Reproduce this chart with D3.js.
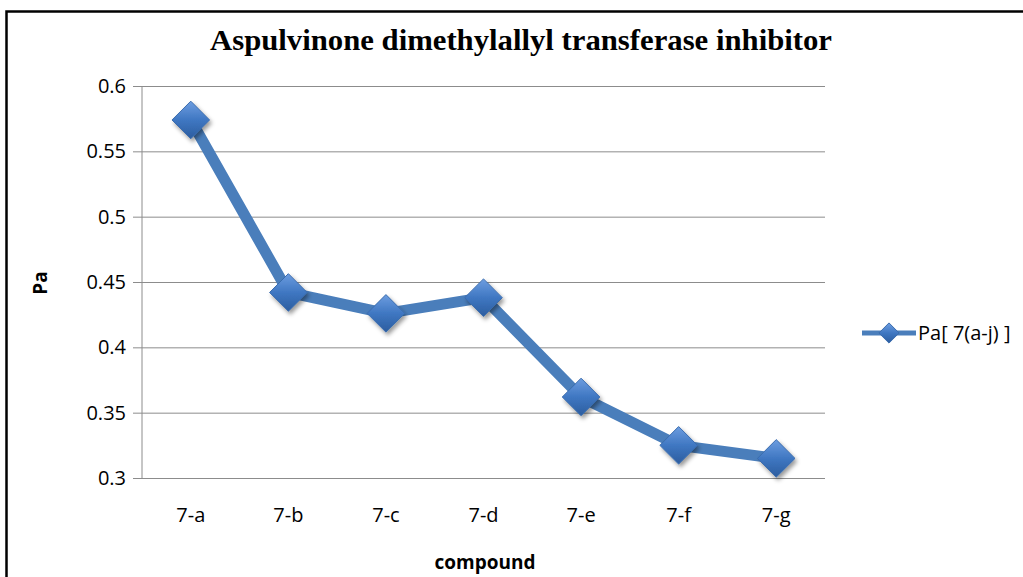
<!DOCTYPE html>
<html>
<head>
<meta charset="utf-8">
<script src="https://cdn.jsdelivr.net/npm/d3@7"></script>
<style>
  body { margin: 0; background: #fff; }
  svg { display: block; }
  .tick text { font-family: "Open Sans", sans-serif; font-size: 20px; fill: #000; }
</style>
</head>
<body>
<div id="chart"></div>
<script>
var categories = ['7-a', '7-b', '7-c', '7-d', '7-e', '7-f', '7-g'];
var paValues = [0.574, 0.442, 0.426, 0.438, 0.362, 0.325, 0.315];
var yTicks = [0.3, 0.35, 0.4, 0.45, 0.5, 0.55, 0.6];
var seriesName = 'Pa[ 7(a-j) ]';

var W = 1023, H = 577;
var margin = { top: 86, left: 142 },
  w = 825 - margin.left,
  h = 478 - margin.top;

var svg = d3.select('#chart').append('svg')
  .attr('width', W)
  .attr('height', H);

var defs = svg.append('defs');
var grad = defs.append('linearGradient')
  .attr('id', 'mk').attr('x1', 0).attr('y1', 0).attr('x2', 0).attr('y2', 1);
grad.append('stop').attr('offset', '0%').attr('stop-color', '#6d9de0');
grad.append('stop').attr('offset', '50%').attr('stop-color', '#3f77c2');
grad.append('stop').attr('offset', '100%').attr('stop-color', '#2c5d9f');
var shadow = defs.append('filter').attr('id', 'sh')
  .attr('x', '-50%').attr('y', '-50%').attr('width', '200%').attr('height', '200%');
shadow.append('feDropShadow')
  .attr('dx', 2).attr('dy', 3).attr('stdDeviation', 2)
  .attr('flood-color', '#000').attr('flood-opacity', 0.4);

// outer frame
svg.append('rect')
  .attr('x', 6.5).attr('y', 11.5)
  .attr('width', 1030).attr('height', 600)
  .attr('fill', 'none').attr('stroke', '#000').attr('stroke-width', 2.5);

// title (squeezed like the original)
svg.append('text')
  .attr('x', 210).attr('y', 50)
  .attr('textLength', 622)
  .attr('lengthAdjust', 'spacingAndGlyphs')
  .style('font-family', '"Liberation Serif", serif')
  .style('font-weight', 'bold')
  .style('font-size', '29px')
  .text('Aspulvinone dimethylallyl transferase inhibitor');

var g = svg.append('g')
  .attr('transform', 'translate(' + margin.left + ',' + margin.top + ')');

var x = d3.scaleBand().domain(categories).range([0, w]);
var y = d3.scaleLinear().domain([0.3, 0.6]).range([h, 0]);

// gridlines + y axis
var yAxis = d3.axisLeft(y)
  .tickValues(yTicks)
  .tickFormat(function(d) { return String(+d.toFixed(2)); })
  .tickSize(-w)
  .tickPadding(16);
var ya = g.append('g').call(yAxis);
ya.select('.domain').remove();
ya.selectAll('.tick line')
  .attr('x1', -9)
  .attr('stroke', '#8c8c8c');
ya.selectAll('.tick text').attr('dy', '0.32em');

g.append('line')
  .attr('x1', 0).attr('x2', 0).attr('y1', 0).attr('y2', h)
  .attr('stroke', '#8c8c8c');

// x axis labels
var xAxis = d3.axisBottom(x).tickSize(0).tickPadding(30);
var xa = g.append('g').attr('transform', 'translate(0,' + h + ')').call(xAxis);
xa.select('.domain').remove();

// axis titles
svg.append('text')
  .attr('transform', 'translate(47,283) rotate(-90)')
  .attr('text-anchor', 'middle')
  .style('font-family', '"Open Sans", sans-serif')
  .style('font-weight', 'bold')
  .style('font-size', '19px')
  .text('Pa');
svg.append('text')
  .attr('x', 485).attr('y', 569)
  .attr('text-anchor', 'middle')
  .style('font-family', '"Open Sans", sans-serif')
  .style('font-weight', 'bold')
  .style('font-size', '19px')
  .text('compound');

// series line
var line = d3.line()
  .x(function(d, i) { return x(categories[i]) + x.bandwidth() / 2; })
  .y(function(d) { return y(d); });
g.append('path')
  .datum(paValues)
  .attr('d', line)
  .attr('fill', 'none')
  .attr('stroke', '#4a7ebb')
  .attr('stroke-width', 11)
  .attr('stroke-linejoin', 'round');

var diamond = d3.symbol().type(d3.symbolDiamond2).size(900);
g.selectAll('.marker')
  .data(paValues)
  .enter().append('path')
  .attr('class', 'marker')
  .attr('d', diamond)
  .attr('transform', function(d, i) {
    return 'translate(' + (x(categories[i]) + x.bandwidth() / 2) + ',' + y(d) + ')';
  })
  .attr('fill', 'url(#mk)')
  .attr('stroke', '#3a6cae')
  .attr('stroke-width', 1)
  .attr('filter', 'url(#sh)');

// legend
var lg = svg.append('g').attr('transform', 'translate(862,333)');
lg.append('line')
  .attr('x1', 0).attr('x2', 54)
  .attr('stroke', '#4a7ebb').attr('stroke-width', 5);
lg.append('path')
  .attr('d', d3.symbol().type(d3.symbolDiamond2).size(260))
  .attr('transform', 'translate(27,0)')
  .attr('fill', 'url(#mk)')
  .attr('stroke', '#3a6cae');
lg.append('text')
  .attr('x', 56).attr('y', 0).attr('dy', '0.35em')
  .style('font-family', '"Open Sans", sans-serif')
  .style('font-size', '20px')
  .text(seriesName);
</script>
</body>
</html>
